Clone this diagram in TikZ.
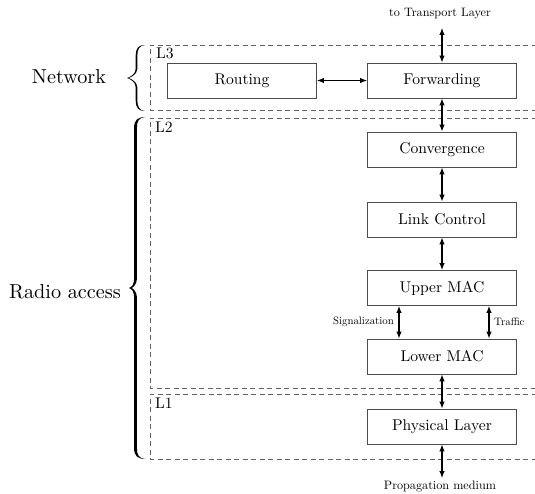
\documentclass[tikz,border=0pt]{standalone}
\usetikzlibrary{arrows.meta}
\definecolor{boxgray}{gray}{0.30}
\definecolor{dashgray}{gray}{0.38}
% text is set at 10pt design size and enlarged
\newcommand\txtbig[1]{\scalebox{2.02}{\fontsize{10}{12}\selectfont #1}}
\newcommand\txtbox[1]{\scalebox{1.56}{\fontsize{10}{12}\selectfont #1}}
\newcommand\txtend[1]{\scalebox{1.22}{\fontsize{10}{12}\selectfont #1}}
\newcommand\txtside[1]{\scalebox{1.08}{\fontsize{10}{12}\selectfont #1}}
% curly brace as a filled outline:
% #1 x of the ends, #2 x of the spine, #3 x of the tip,
% #4 top y, #5 tip y, #6 bottom y, #7 half stroke width
\newcommand\curlybrace[7]{%
  \fill[black]
    (#1,#4) .. controls ({#2+2},#4) and ({#2-#7},{#4+3}) .. ({#2-#7},{#4+11})
    -- ({#2-#7},{#5-9}) .. controls ({#2-#7},{#5-4}) and ({#3+3},{#5-0.8}) .. (#3,#5)
    .. controls ({#3+3},{#5+0.8}) and ({#2-#7},{#5+4}) .. ({#2-#7},{#5+9})
    -- ({#2-#7},{#6-11}) .. controls ({#2-#7},{#6-3}) and ({#2+2},#6) .. (#1,#6)
    .. controls ({#2+3},{#6-0.6}) and ({#2+#7},{#6-4}) .. ({#2+#7},{#6-11})
    -- ({#2+#7},{#5+9}) .. controls ({#2+#7},{#5+4}) and ({#3+4},{#5+0.6}) .. ({#3+2*#7},#5)
    .. controls ({#3+4},{#5-0.6}) and ({#2+#7},{#5-4}) .. ({#2+#7},{#5-9})
    -- ({#2+#7},{#4+11}) .. controls ({#2+#7},{#4+4}) and ({#2+3},{#4+0.6}) .. (#1,#4)
    -- cycle;}
\begin{document}
\begin{tikzpicture}[x=1pt,y=-1pt,
  block/.style={draw=boxgray, line width=0.9pt, minimum width=149pt,
    minimum height=35pt, inner sep=0pt},
  layer/.style={draw=dashgray, line width=0.9pt, dash pattern=on 5pt off 3.5pt},
  tag/.style={anchor=north west, inner sep=0pt},
  link/.style={{Latex[length=7pt,width=5.5pt]}-{Latex[length=7pt,width=5.5pt]}, line width=1.1pt},
  plain/.style={inner sep=0pt}
]
\useasboundingbox (0,0) rectangle (535,494);

% layer frames (open to the right)
\draw[layer] (545,45) -- (150,45) -- (150,110) -- (545,110);
\draw[layer] (545,118) -- (150,118) -- (150,388) -- (545,388);
\draw[layer] (545,394) -- (150,394) -- (150,459) -- (545,459);
\node[tag] (l3) at (156,47.5) {\txtbox{L3}};
\node[tag] (l2) at (155,121.5) {\txtbox{L2}};
\node[tag] (l1) at (155,397.5) {\txtbox{L1}};

% group braces
\curlybrace{145}{136.5}{127}{45}{78}{111}{0.8}
\curlybrace{146}{135.5}{129}{117}{288}{459}{1.4}
\node[plain] (network) at (69,77) {\txtbig{Network}};
\node[plain] (radio) at (65,292) {\txtbig{Radio access}};

% protocol blocks
\node[block] (routing) at (242,80.5) {\txtbox{Routing}};
\node[block] (fwd) at (442,80.5) {\txtbox{Forwarding}};
\node[block] (conv) at (442,149.5) {\txtbox{Convergence}};
\node[block] (llc) at (442,219.5) {\txtbox{Link Control}};
\node[block] (umac) at (442,288) {\txtbox{Upper MAC}};
\node[block] (lmac) at (442,356.5) {\txtbox{Lower MAC}};
\node[block] (phy) at (442,426.5) {\txtbox{Physical Layer}};

% end points
\node[plain] (transport) at (440,14) {\txtend{to Transport Layer}};
\node[plain] (medium) at (440,487) {\txtend{Propagation medium}};
\coordinate (top) at (442,28);
\coordinate (bottom) at (442,478);

% connectors
\draw[link] (top) -- (fwd.north);
\draw[link] (routing.east) -- (fwd.west);
\draw[link] (fwd.south) -- (conv.north);
\draw[link] (conv.south) -- (llc.north);
\draw[link] (llc.south) -- (umac.north);
\draw[link] (umac.south -| 399,0) -- (lmac.north -| 399,0) coordinate[pos=0.5] (sigmid);
\draw[link] (umac.south -| 489,0) -- (lmac.north -| 489,0) coordinate[pos=0.5] (trmid);
\draw[link] (lmac.south) -- (phy.north);
\draw[link] (phy.south) -- (bottom);
\node[plain, anchor=east] (sig) at ([xshift=-5pt]sigmid) {\txtside{Signalization}};
\node[plain, anchor=west] (traffic) at ([xshift=5pt]trmid) {\txtside{Traffic}};
\end{tikzpicture}
\end{document}
